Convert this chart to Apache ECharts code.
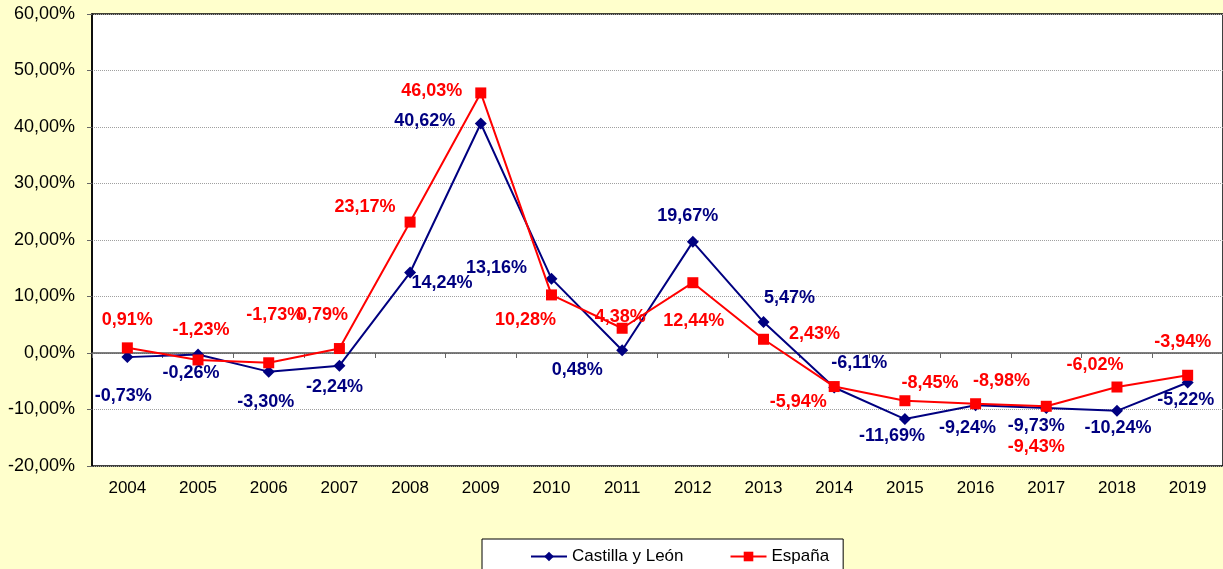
<!DOCTYPE html>
<html>
<head>
<meta charset="utf-8">
<script src="https://cdn.jsdelivr.net/npm/echarts@6/dist/echarts.min.js"></script>
<style>
html,body{margin:0;padding:0;background:#FFFFCC;}
#chart{width:1223px;height:569px;}
</style>
</head>
<body>
<div id="chart"></div>
<script>
const years = ['2004','2005','2006','2007','2008','2009','2010','2011','2012','2013','2014','2015','2016','2017','2018','2019'];
const castilla = [-0.73, -0.26, -3.30, -2.24, 14.24, 40.62, 13.16, 0.48, 19.67, 5.47, -6.11, -11.69, -9.24, -9.73, -10.24, -5.22];
const espana = [0.91, -1.23, -1.73, 0.79, 23.17, 46.03, 10.28, 4.38, 12.44, 2.43, -5.94, -8.45, -8.98, -9.43, -6.02, -3.94];
const seriesNames = ['Castilla y León', 'España'];

// label offsets (label centre relative to the point), layout only
const castillaLabelOffsets = [[-4,39],[-7,19],[-3,30],[-5,21],[32,10],[-56,-2],[-55,-11],[-45,20],[-5,-26],[26,-24],[25,-24],[-13,17],[-8,23],[-10,18],[1,17],[-2,18]];
const espanaLabelOffsets = [[0,-28],[3,-30],[6,-48],[-17,-34],[-45,-15],[-49,-2],[-26,25],[-2,-11],[1,38],[51,-5],[-36,15],[25,-18],[26,-23],[-10,41],[-22,-22],[-5,-33]];

const fmt = v => v.toFixed(2).replace('.', ',') + '%';
const FONT = 'Arial, "Liberation Sans", sans-serif';

function mkData(vals, offs) {
  return vals.map((v, i) => ({ value: v, label: { offset: offs[i] } }));
}

const chart = echarts.init(document.getElementById('chart'), null, { renderer: 'canvas' });
chart.setOption({
  animation: false,
  backgroundColor: '#FFFFCC',
  grid: {
    left: 92, right: 0, top: 14, bottom: 103,
    show: true, backgroundColor: '#FFFFFF', borderColor: '#000000', borderWidth: 1.5
  },
  legend: {
    data: seriesNames,
    left: 482, top: 539,
    padding: [9, 14, 20, 48],
    itemWidth: 36, itemHeight: 12, itemGap: 46,
    borderColor: '#000000', borderWidth: 1,
    backgroundColor: '#FFFFFF',
    textStyle: { fontFamily: FONT, fontSize: 17, color: '#000000' }
  },
  xAxis: [
    {
      type: 'category', data: years, boundaryGap: true,
      axisLine: { onZero: true, lineStyle: { color: '#555555', width: 1.5 } },
      axisTick: { show: true, length: 5, lineStyle: { color: '#666666' } },
      axisLabel: { show: false },
      splitLine: { show: false }
    },
    {
      type: 'category', data: years, boundaryGap: true, position: 'bottom',
      axisLine: { show: false, onZero: false },
      axisTick: { show: false },
      axisLabel: { margin: 14, fontFamily: FONT, fontSize: 17, color: '#000000' },
      splitLine: { show: false }
    }
  ],
  yAxis: {
    type: 'value', min: -20, max: 60, interval: 10,
    axisLine: { show: true, onZero: false, lineStyle: { color: '#000000', width: 1.5 } },
    axisTick: { show: true, length: 5, lineStyle: { color: '#666666' } },
    axisLabel: { formatter: v => fmt(v), margin: 17, fontFamily: FONT, fontSize: 18, color: '#000000' },
    splitLine: { show: true, lineStyle: { color: '#A0A0A0', type: 'dotted', width: 1 } }
  },
  series: [
    {
      name: seriesNames[0], type: 'line', xAxisIndex: 0,
      data: mkData(castilla, castillaLabelOffsets),
      symbol: 'diamond', symbolSize: 12,
      lineStyle: { color: '#000080', width: 2 },
      itemStyle: { color: '#000080' },
      label: {
        show: true, position: 'inside', formatter: p => fmt(p.value),
        fontFamily: FONT, fontSize: 18, fontWeight: 'bold', color: '#000080'
      },
      z: 3
    },
    {
      name: seriesNames[1], type: 'line', xAxisIndex: 0,
      data: mkData(espana, espanaLabelOffsets),
      symbol: 'rect', symbolSize: 11,
      lineStyle: { color: '#FF0000', width: 2 },
      itemStyle: { color: '#FF0000' },
      label: {
        show: true, position: 'inside', formatter: p => fmt(p.value),
        fontFamily: FONT, fontSize: 18, fontWeight: 'bold', color: '#FF0000'
      },
      z: 4
    }
  ]
});
</script>
</body>
</html>
